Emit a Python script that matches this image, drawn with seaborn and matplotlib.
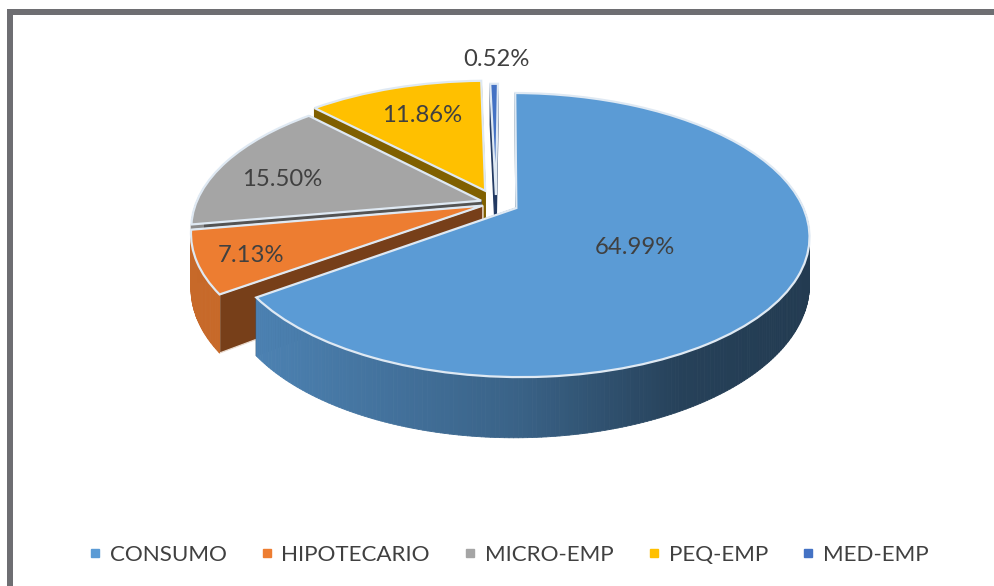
import numpy as np
import matplotlib
matplotlib.use("Agg")
import matplotlib.pyplot as plt
import seaborn as sns
from matplotlib.transforms import Transform
from matplotlib.collections import PolyCollection
from matplotlib.lines import Line2D
from matplotlib.patches import Rectangle, Polygon
from matplotlib.colors import to_rgb

categories = ["CONSUMO", "HIPOTECARIO", "MICRO-EMP", "PEQ-EMP", "MED-EMP"]
shares = [64.99, 7.13, 15.50, 11.86, 0.52]
slice_colors = ["#5B9BD5", "#ED7D31", "#A5A5A5", "#FFC000", "#4472C4"]
explode = [0.08, 0.05, 0.055, 0.10, 0.06]

sns.set_theme(style="white")
plt.rcParams["font.family"] = ["Lato", "DejaVu Sans"]
palette = sns.color_palette(slice_colors)

# projection of the tilted pie onto the picture (pixel space)
OX, OY, SX, SY, PERSP, DEPTH = 496.0, 203.0, 285.0, 135.0, 0.189, 49.0


def project(u, v, z=0.0):
    u, v = np.asarray(u, float), np.asarray(v, float)
    w = 1 + PERSP * v
    return OX + SX * u / w, OY - SY * v / w + z * DEPTH * (1 - 0.07 * u) / w


class Tilt(Transform):
    input_dims = output_dims = 2
    has_inverse = False

    def transform_non_affine(self, values):
        values = np.asarray(values, float)
        x, y = project(values[:, 0], values[:, 1])
        return np.column_stack([x, y])


fig = plt.figure(figsize=(9.95, 5.86), dpi=100, facecolor="white")
ax = fig.add_axes([0, 0, 1, 1])
wedges, _ = ax.pie(shares, explode=explode, colors=palette, startangle=89.5,
                   counterclock=False, radius=1.0,
                   wedgeprops=dict(edgecolor="#DFE9F3", linewidth=1.6))
ax.set_aspect("auto")
ax.set_xlim(0, 995)
ax.set_ylim(586, 0)
ax.axis("off")

tilt = Tilt() + ax.transData
paint_order = [4, 3, 2, 1, 0]


def mix(c, f):
    return tuple(min(1, x * f) for x in to_rgb(c))


for rank, i in enumerate(paint_order):
    wd, col = wedges[i], palette[i]
    base = 2 + rank * 3
    cx, cy = wd.center
    ang = np.radians(np.arange(wd.theta1, wd.theta2 + 0.5, 0.75))
    if ang[-1] < np.radians(wd.theta2):
        ang = np.append(ang, np.radians(wd.theta2))
    us, vs = cx + wd.r * np.cos(ang), cy + wd.r * np.sin(ang)
    # the two cut faces, under the rim wall
    for a in (wd.theta1, wd.theta2):
        ru, rv = cx + wd.r * np.cos(np.radians(a)), cy + wd.r * np.sin(np.radians(a))
        pts = [project(cx, cy, 0), project(ru, rv, 0), project(ru, rv, 1), project(cx, cy, 1)]
        ax.add_patch(Polygon(pts, closed=True, facecolor=mix(col, 0.5), edgecolor="#E9D9CC" if i == 1 else mix(col, 0.5),
                             linewidth=0.9, zorder=base))
    # rim wall with horizontal shading, only on the side facing the viewer
    x0, y0 = project(us, vs, 0)
    x1, y1 = project(us, vs, 1)
    quads, shades = [], []
    for j in range(len(ang) - 1):
        if np.sin(ang[j]) > 0.1:
            continue
        quads.append([(x0[j], y0[j]), (x0[j + 1], y0[j + 1]), (x1[j + 1], y1[j + 1]), (x1[j], y1[j])])
        shades.append(mix(col, np.interp(x0[j], [250, 520, 680, 810], [0.84, 0.63, 0.42, 0.38])))
    ax.add_collection(PolyCollection(quads, facecolors=shades, edgecolors=shades, linewidths=0.6, zorder=base + 1))
    wd.set_transform(tilt)
    wd.set_clip_on(False)
    wd.set_zorder(base + 2)

label_font = 17.2
legend_font = 16.1
label_spots = [(635, 247), (251, 256), (282, 179), (422, 115), (496, 60)]
for v, (lx, ly) in zip(shares, label_spots):
    ax.text(lx, ly, f"{v:.2f}%", ha="center", va="center", color="#404040", fontsize=label_font, zorder=40)

handles = [Line2D([], [], linestyle="none", marker="s", markersize=6.4, color=c) for c in palette]
ax.legend(handles, categories, ncol=5, loc="center", bbox_to_anchor=(509 / 995, 1 - 555 / 586), frameon=False,
          fontsize=legend_font, labelcolor="#404040", handlelength=0.5, handletextpad=0.4, columnspacing=1.56)

frame = "#6E6E72"
ax.add_patch(Rectangle((7, 9), 988, 6, facecolor=frame, edgecolor="none", zorder=50))
ax.add_patch(Rectangle((7, 9), 6, 577, facecolor=frame, edgecolor="none", zorder=50))

fig.savefig("out.png", dpi=100, facecolor="white")
